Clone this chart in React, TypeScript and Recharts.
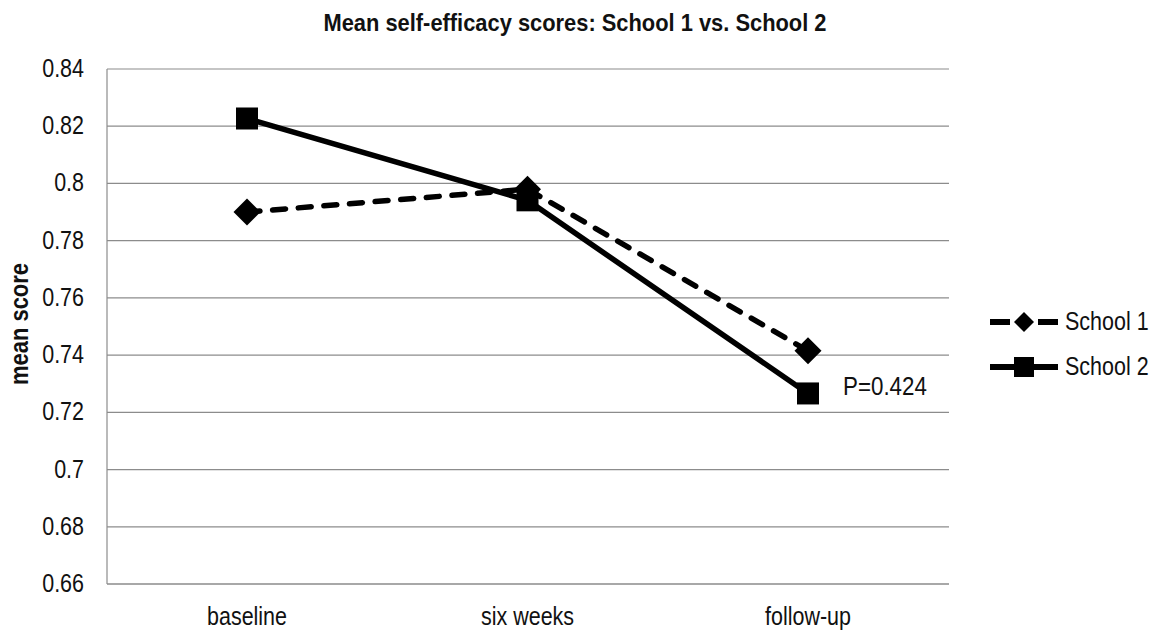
import React from "react"
import {
  LineChart,
  Line,
  XAxis,
  YAxis,
  CartesianGrid,
  Legend,
  LabelList,
} from "recharts"

const categories = ["baseline", "six weeks", "follow-up"]
const school1Scores = [0.79, 0.798, 0.7415]
const school2Scores = [0.8227, 0.7941, 0.7266]
const yTicks = [0.66, 0.68, 0.7, 0.72, 0.74, 0.76, 0.78, 0.8, 0.82, 0.84]
const pValueLabel = "P=0.424"

const data = categories.map((name, i) => ({
  name,
  school1: school1Scores[i],
  school2: school2Scores[i],
}))

const FONT = '"Liberation Sans", Arial, sans-serif'
const GRID = "#8c8c8c"
const SQUEEZE = 0.86

const formatTick = (v: number) => String(Number(v.toFixed(2)))

const DiamondDot = (props: any) => {
  const { cx, cy, index } = props
  if (cx == null || cy == null) return null
  const r = 13.5
  return (
    <polygon
      key={`d-${index}`}
      points={`${cx},${cy - r} ${cx + r},${cy} ${cx},${cy + r} ${cx - r},${cy}`}
      fill="#000"
    />
  )
}

const SquareDot = (props: any) => {
  const { cx, cy, index } = props
  if (cx == null || cy == null) return null
  const s = 22
  return <rect key={`s-${index}`} x={cx - s / 2} y={cy - s / 2} width={s} height={s} fill="#000" />
}

const YTick = ({ x, y, payload }: any) => (
  <text
    transform={`translate(${x - 23},${y + 8}) scale(${SQUEEZE},1)`}
    textAnchor="end"
    fontSize={25}
    fontFamily={FONT}
    fill="#111"
  >
    {formatTick(payload.value)}
  </text>
)

const XTick = ({ x, y, payload }: any) => (
  <text
    transform={`translate(${x},${y + 41}) scale(${SQUEEZE},1)`}
    textAnchor="middle"
    fontSize={25}
    fontFamily={FONT}
    fill="#111"
  >
    {payload.value}
  </text>
)

const YTitle = () => (
  <text
    transform="translate(28,324) rotate(-90)"
    textAnchor="middle"
    fontSize={25}
    fontWeight="bold"
    fontFamily={FONT}
    fill="#111"
    textLength={122}
    lengthAdjust="spacingAndGlyphs"
  >
    mean score
  </text>
)

// p-value note sits to the right of the last School 2 point
const PValueNote = (props: any) => {
  const { x, y, index } = props
  if (index !== categories.length - 1) return null
  return (
    <text
      transform={`translate(${x + 35},${y + 2}) scale(${SQUEEZE},1)`}
      fontSize={26}
      fontFamily={FONT}
      fill="#111"
    >
      {pValueLabel}
    </text>
  )
}

const legendRows = [
  { label: "School 1", dashed: true },
  { label: "School 2", dashed: false },
]

const LegendContent = () => (
  <svg width={175} height={80}>
    {legendRows.map((row, i) => {
      const cy = 17 + i * 45
      return (
        <g key={row.label}>
          {row.dashed ? (
            <line x1={5} y1={cy} x2={73} y2={cy} stroke="#000" strokeWidth={6}
              strokeDasharray="20 28" />
          ) : (
            <line x1={5} y1={cy} x2={73} y2={cy} stroke="#000" strokeWidth={6} />
          )}
          {row.dashed ? (
            <polygon points={`39,${cy - 10} 49,${cy} 39,${cy + 10} 29,${cy}`} fill="#000" />
          ) : (
            <rect x={29} y={cy - 10} width={20} height={20} fill="#000" />
          )}
          <text
            transform={`translate(80,${cy + 8}) scale(${SQUEEZE},1)`}
            fontSize={25}
            fontFamily={FONT}
            fill="#111"
          >
            {row.label}
          </text>
        </g>
      )
    })}
  </svg>
)

export default function App() {
  return (
    <div style={{ position: "relative", width: 1163, height: 630, background: "#fff" }}>
      <style>{"body{margin:0}"}</style>
      <svg
        width={1163}
        height={40}
        style={{ position: "absolute", left: 0, top: 0 }}
      >
        <text
          x={323.5}
          y={31}
          fontSize={24}
          fontWeight="bold"
          fontFamily={FONT}
          fill="#111"
          textLength={503}
          lengthAdjust="spacingAndGlyphs"
        >
          Mean self-efficacy scores: School 1 vs. School 2
        </text>
      </svg>
      <LineChart
        width={1163}
        height={630}
        data={data}
        margin={{ top: 69, right: 214, bottom: 6, left: 20 }}
      >
        <CartesianGrid vertical={false} stroke={GRID} strokeWidth={1.2} />
        <XAxis
          dataKey="name"
          height={40}
          padding={{ left: 140, right: 141 }}
          axisLine={{ stroke: GRID, strokeWidth: 1.2 }}
          tickLine={false}
          tickSize={0}
          tickMargin={0}
          tick={<XTick />}
          interval={0}
        />
        <YAxis
          width={87}
          domain={[0.66, 0.84]}
          ticks={yTicks}
          allowDataOverflow
          axisLine={{ stroke: GRID, strokeWidth: 1.2 }}
          tickLine={false}
          tickSize={0}
          tickMargin={0}
          tick={<YTick />}
          label={{ content: <YTitle /> }}
        />
        <Legend
          layout="vertical"
          align="center"
          verticalAlign="middle"
          content={<LegendContent />}
          wrapperStyle={{ left: 985, top: 305, width: 175, height: 80 }}
        />
        <Line
          dataKey="school1"
          name="School 1"
          stroke="#000"
          strokeWidth={5.5}
          strokeDasharray="13 12.7"
          strokeLinecap="round"
          dot={<DiamondDot />}
          activeDot={false}
          isAnimationActive={false}
        />
        <Line
          dataKey="school2"
          name="School 2"
          stroke="#000"
          strokeWidth={5.5}
          dot={<SquareDot />}
          activeDot={false}
          isAnimationActive={false}
        >
          <LabelList dataKey="school2" content={<PValueNote />} />
        </Line>
      </LineChart>
    </div>
  )
}
